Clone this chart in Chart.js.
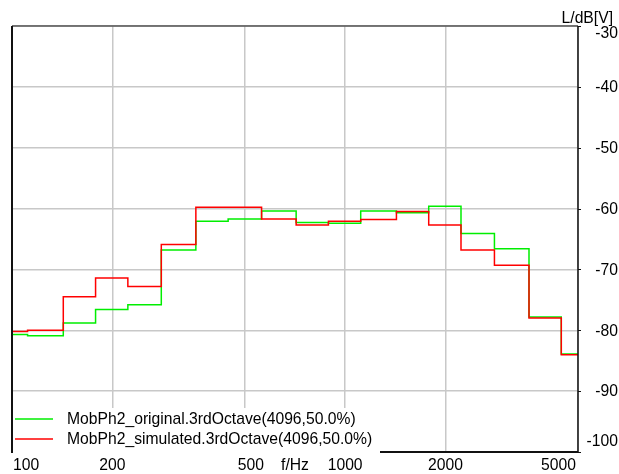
<!DOCTYPE html>
<html>
<head>
<meta charset="utf-8">
<script src="https://cdn.jsdelivr.net/npm/chart.js@4.4.1/dist/chart.umd.min.js"></script>
<style>
  html, body { margin: 0; padding: 0; background: #fff; }
  #wrap { width: 619px; height: 474px; }
</style>
</head>
<body>
<div id="wrap"><canvas id="octChart" width="619" height="474"></canvas></div>
<script>
// third-octave band centre frequencies (Hz)
const bands = [100, 125, 160, 200, 250, 315, 400, 500, 630, 800, 1000, 1250, 1600, 2000, 2500, 3150, 4000, 5000];

// levels in dB[V]
const original = [-80.7, -80.9, -78.8, -76.6, -75.8, -66.8, -62.1, -61.7, -60.4, -62.3, -62.4, -60.4, -60.7, -59.6, -64.1, -66.6, -77.8, -83.9];
const simulated = [-80.2, -80.0, -74.5, -71.4, -72.8, -65.9, -59.8, -59.8, -61.7, -62.7, -62.1, -61.8, -60.5, -62.7, -66.8, -69.3, -78.0, -84.0];

const xTicks = [100, 200, 500, 1000, 2000, 5000];
const yTicks = [-30, -40, -50, -60, -70, -80, -90, -100];

const seriesLabels = ["MobPh2_original.3rdOctave(4096,50.0%)", "MobPh2_simulated.3rdOctave(4096,50.0%)"];
const seriesColors = ["#00ee00", "#ff0000"];

const FONT = '15.7px "Liberation Sans", Arial, sans-serif';

// each band becomes a step from its lower to its upper band edge
function bandSteps(values) {
    const pts = values.map((v, i) => ({ x: bands[i] * Math.pow(2, -1 / 6), y: v }));
    const last = bands.length - 1;
    pts.push({ x: bands[last] * Math.pow(2, 1 / 6), y: values[last] });
    return pts;
}

const framePlugin = {
    id: "frame",
    afterDraw(chart) {
        const ctx = chart.ctx;
        const a = chart.chartArea;
        const xs = chart.scales.x;
        const ys = chart.scales.y;

        ctx.save();

        // frame
        ctx.strokeStyle = "#555";
        ctx.lineWidth = 1.5;
        ctx.beginPath();
        ctx.moveTo(a.left, a.top);
        ctx.lineTo(a.right, a.top);
        ctx.stroke();

        ctx.strokeStyle = "#111";
        ctx.lineWidth = 2;
        ctx.beginPath();
        ctx.moveTo(a.left, a.top);
        ctx.lineTo(a.left, a.bottom + 1);
        ctx.moveTo(a.left, a.bottom);
        ctx.lineTo(a.right, a.bottom);
        ctx.stroke();

        ctx.lineWidth = 1.5;
        ctx.beginPath();
        ctx.moveTo(a.right, a.top);
        ctx.lineTo(a.right, a.bottom);
        ctx.stroke();

        // small ticks on the right axis
        ctx.lineWidth = 1;
        ctx.beginPath();
        yTicks.forEach(v => {
            const y = Math.round(ys.getPixelForValue(v)) + 0.5;
            ctx.moveTo(a.right, y);
            ctx.lineTo(a.right + 3, y);
        });
        ctx.stroke();

        // y tick labels
        ctx.fillStyle = "#000";
        ctx.font = FONT;
        ctx.textAlign = "right";
        ctx.textBaseline = "middle";
        yTicks.forEach(v => {
            let y = ys.getPixelForValue(v);
            y = Math.min(Math.max(y, a.top + 7), a.bottom - 11);
            ctx.fillText(String(v), 618, y + 1);
        });
        ctx.fillText("L/dB[V]", 613, 19);

        // x tick labels
        const ly = a.bottom + 14;
        xTicks.forEach((v, i) => {
            let x = xs.getPixelForValue(v);
            if (i === 0) {
                ctx.textAlign = "left";
                x += 1;
            } else if (i === xTicks.length - 1) {
                ctx.textAlign = "right";
                x -= 2;
            } else {
                ctx.textAlign = "center";
                if (v === 500) x += 6;
            }
            ctx.fillText(String(v), x, ly);
        });
        ctx.textAlign = "center";
        ctx.fillText("f/Hz", xs.getPixelForValue(Math.sqrt(500 * 1000)), ly);

        // legend box in the lower left corner
        ctx.fillStyle = "#fff";
        ctx.fillRect(a.left + 1, a.bottom - 44, 367, 46);
        seriesLabels.forEach((label, i) => {
            const y = a.bottom - 33 + i * 20;
            ctx.strokeStyle = seriesColors[i];
            ctx.lineWidth = 1.6;
            ctx.beginPath();
            ctx.moveTo(a.left + 3, y);
            ctx.lineTo(a.left + 41, y);
            ctx.stroke();
            ctx.fillStyle = "#000";
            ctx.textAlign = "left";
            ctx.fillText(label, a.left + 55, y + 1);
        });

        ctx.restore();
    }
};

new Chart(document.getElementById("octChart").getContext("2d"), {
    type: "line",
    data: {
        datasets: [
            {
                label: seriesLabels[0],
                data: bandSteps(original),
                borderColor: seriesColors[0],
                borderWidth: 1.5,
                stepped: true,
                pointRadius: 0,
                fill: false,
                order: 1
            },
            {
                label: seriesLabels[1],
                data: bandSteps(simulated),
                borderColor: seriesColors[1],
                borderWidth: 1.5,
                stepped: true,
                pointRadius: 0,
                fill: false,
                order: 0
            }
        ]
    },
    options: {
        responsive: false,
        animation: false,
        layout: {
            padding: { left: 12, right: 41, top: 26, bottom: 22 }
        },
        plugins: {
            legend: { display: false },
            tooltip: { enabled: false }
        },
        scales: {
            x: {
                type: "logarithmic",
                min: 100,
                max: 5000,
                afterBuildTicks: s => { s.ticks = xTicks.map(v => ({ value: v })); },
                ticks: { display: false },
                grid: { color: "#c8c8c8", lineWidth: 1.5, drawTicks: false },
                border: { display: false }
            },
            y: {
                type: "linear",
                position: "right",
                min: -100,
                max: -30,
                afterBuildTicks: s => { s.ticks = yTicks.map(v => ({ value: v })); },
                ticks: { display: false },
                grid: { color: "#c8c8c8", lineWidth: 1.5, drawTicks: false },
                border: { display: false }
            }
        }
    },
    plugins: [framePlugin]
});
</script>
</body>
</html>
